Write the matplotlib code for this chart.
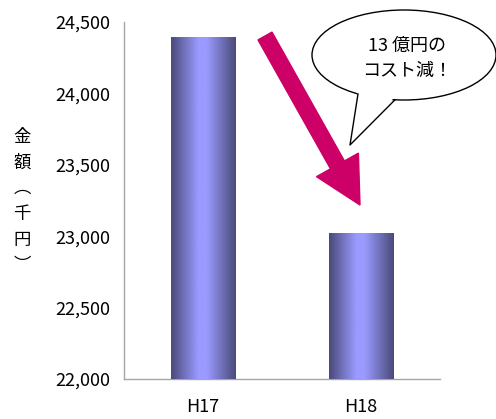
import numpy as np
import matplotlib
matplotlib.use('Agg')
import matplotlib.pyplot as plt
from matplotlib.colors import LinearSegmentedColormap
from matplotlib.patches import Ellipse, Polygon, FancyArrow
from matplotlib.transforms import IdentityTransform

plt.rcParams['font.family'] = ['Noto Sans CJK JP', 'DejaVu Sans']

# data
years = ['H17', 'H18']
cost = [24390, 23020]          # 千円
yticks = [22000, 22500, 23000, 23500, 24000, 24500]
ylabel_chars = ['金', '額', '︵', '千', '円', '︶']
callout = '13 億円の\nコスト減！'

W, H = 496, 419
fig = plt.figure(figsize=(W / 100, H / 100), dpi=100)
ax = fig.add_axes([124 / W, 40 / H, 316 / W, 357 / H])

x = np.arange(len(years))
bw = 0.41
bars = ax.bar(x, cost, width=bw, color='none', zorder=2)

# gradient fill for each bar
cmap = LinearSegmentedColormap.from_list(
    'cyl', [(0, '#4a4a7a'), (0.42, '#9a9aff'), (0.55, '#9a9aff'), (1, '#4a4a7a')])
grad = np.linspace(0, 1, 256)[None, :]
for b in bars:
    ax.imshow(grad, cmap=cmap, aspect='auto', zorder=3,
              extent=[b.get_x(), b.get_x() + b.get_width(), 22000, b.get_height()])

ax.set_xlim(-0.5, 1.5)
ax.set_ylim(22000, 24500)
ax.set_yticks(yticks)
ax.set_yticklabels([f'{v:,}' for v in yticks], fontsize=13)
ax.set_xticks(x)
ax.set_xticklabels(years, fontsize=13)
ax.tick_params(axis='both', length=0)
ax.tick_params(axis='y', pad=10)
ax.tick_params(axis='x', pad=14)
for s in ['top', 'right']:
    ax.spines[s].set_visible(False)
for s in ['left', 'bottom']:
    ax.spines[s].set_color('#a6a6a6')
    ax.spines[s].set_linewidth(1)

fig.text(22 / W, 1 - 201 / H, '\n'.join(ylabel_chars), ha='center', va='center',
         fontsize=12.5, linespacing=1.55)

# big magenta arrow (pixel coords)
x0, y0 = 265, H - 36
x1, y1 = 360, H - 205
fig.add_artist(FancyArrow(x0, y0, x1 - x0, y1 - y0, width=16, head_width=48,
                          head_length=46, length_includes_head=True,
                          color='#cc0066', transform=IdentityTransform(), zorder=5))

# speech bubble
cx, cy, a, b = 404, H - 55, 92, 45
fig.add_artist(Ellipse((cx, cy), 2 * a, 2 * b, facecolor='white', edgecolor='black',
                       lw=1, transform=IdentityTransform(), zorder=6))
xa, xb = 358, 395
ya = cy - b * np.sqrt(1 - ((xa - cx) / a) ** 2)
yb = cy - b * np.sqrt(1 - ((xb - cx) / a) ** 2)
tip = (350, H - 145)
fig.add_artist(Polygon([(xa, ya + 3), (xb, yb + 3), tip], closed=True,
                       facecolor='white', edgecolor='none',
                       transform=IdentityTransform(), zorder=7))
fig.add_artist(plt.Line2D([xa, tip[0], xb], [ya, tip[1], yb], color='black', lw=1,
                          transform=IdentityTransform(), zorder=8))
fig.text(407 / W, 1 - 58 / H, callout, ha='center', va='center', fontsize=13,
         linespacing=1.5, zorder=9)

fig.savefig('out.png', dpi=100)
